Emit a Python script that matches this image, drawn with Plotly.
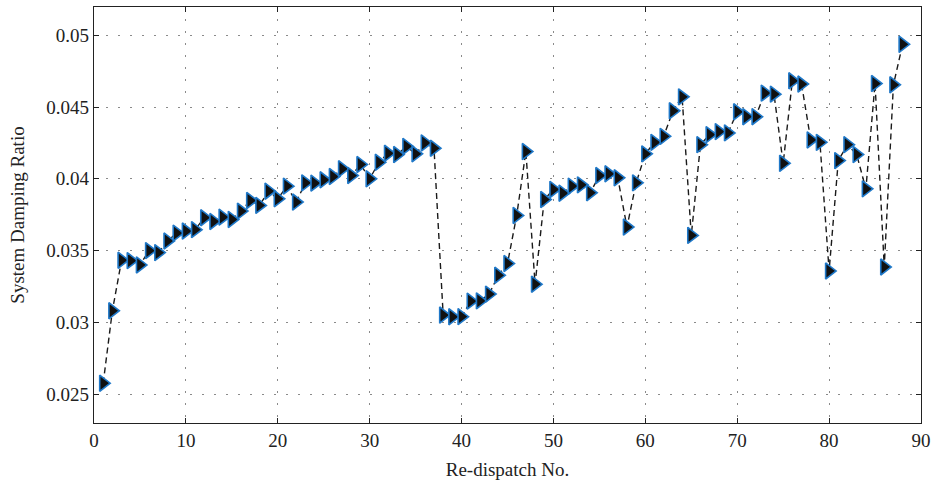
import plotly.graph_objects as go

redispatch_no = list(range(1, 89))
damping_ratio = [
    0.02576, 0.03081, 0.03433, 0.03430, 0.03400, 0.03500, 0.03486, 0.03567, 0.03622, 0.03636,
    0.03646, 0.03729, 0.03703, 0.03733, 0.03717, 0.03775, 0.03849, 0.03815, 0.03914, 0.03861,
    0.03949, 0.03838, 0.03972, 0.03970, 0.03993, 0.04016, 0.04070, 0.04023, 0.04100, 0.04000,
    0.04115, 0.04178, 0.04169, 0.04226, 0.04174, 0.04250, 0.04213, 0.03051, 0.03039, 0.03040,
    0.03148, 0.03150, 0.03197, 0.03328, 0.03410, 0.03745, 0.04190, 0.03266, 0.03856, 0.03926,
    0.03900, 0.03949, 0.03958, 0.03903, 0.04023, 0.04035, 0.04007, 0.03664, 0.03972, 0.04174,
    0.04254, 0.04296, 0.04474, 0.04571, 0.03606, 0.04238, 0.04308, 0.04329, 0.04320, 0.04467,
    0.04433, 0.04433, 0.04597, 0.04590, 0.04108, 0.04683, 0.04660, 0.04271, 0.04254, 0.03358,
    0.04127, 0.04238, 0.04169, 0.03930, 0.04664, 0.03386, 0.04655, 0.04937,
]

x_ticks = list(range(0, 91, 10))
y_ticks = [0.025, 0.03, 0.035, 0.04, 0.045, 0.05]
y_tick_text = ["0.025", "0.03", "0.035", "0.04", "0.045", "0.05"]

fig = go.Figure()
fig.add_trace(go.Scatter(
    x=redispatch_no, y=damping_ratio,
    mode="lines+markers",
    line=dict(color="#1a1a1a", width=1.4, dash="6px,4px"),
    marker=dict(symbol="triangle-right", size=14, color="#111111",
                line=dict(color="#1f78c8", width=1.6)),
    showlegend=False,
))

font = dict(family="Liberation Serif, Times New Roman, serif", size=19, color="#222222")
axis_common = dict(
    showline=True, linecolor="#222222", linewidth=1.3, mirror="ticks",
    ticks="inside", ticklen=5, tickcolor="#222222", tickwidth=1,
    showgrid=True, gridcolor="#8a8a8a", griddash="1.5px,10.5px", gridwidth=1.3,
    zeroline=False, tickfont=font,
)
fig.update_xaxes(range=[0, 90], tickvals=x_ticks,
                 title=dict(text="Re-dispatch No.", font=font, standoff=12), **axis_common)
fig.update_yaxes(range=[0.02299, 0.05197], tickvals=y_ticks, ticktext=y_tick_text,
                 title=dict(text="System Damping Ratio", font=font, standoff=16), **axis_common)

fig.update_layout(
    width=937, height=485,
    margin=dict(l=94, r=11, t=6, b=62),
    paper_bgcolor="white", plot_bgcolor="white",
    font=font,
)
fig.write_html("out.html")
